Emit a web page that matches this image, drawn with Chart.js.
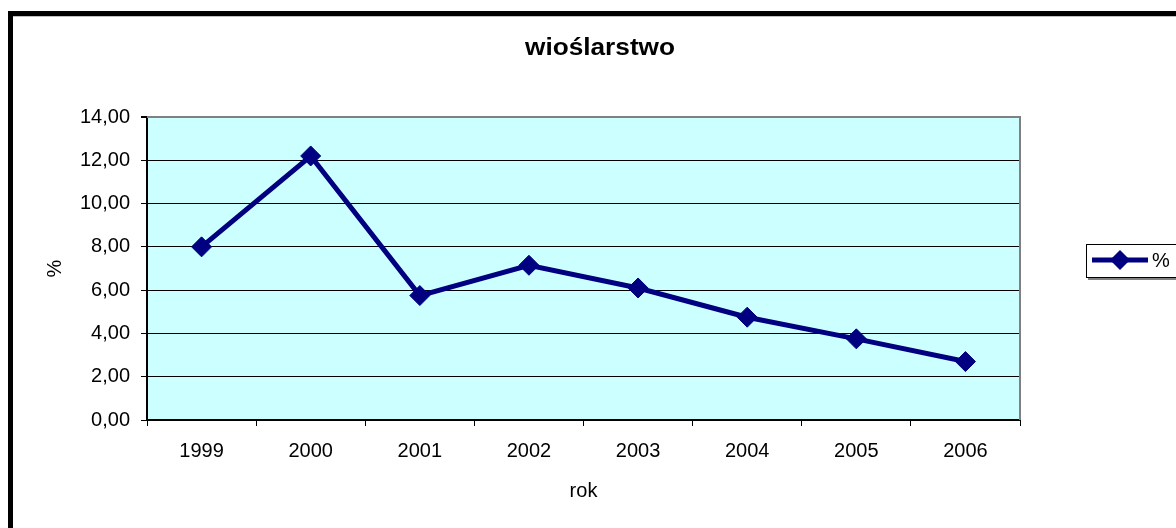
<!DOCTYPE html>
<html>
<head>
<meta charset="utf-8">
<script src="https://cdn.jsdelivr.net/npm/chart.js@4/dist/chart.umd.min.js"></script>
<style>
    html, body { margin: 0; padding: 0; background: #ffffff; overflow: hidden; }
    #wrap { position: relative; width: 1176px; height: 528px; }
</style>
</head>
<body>
<div id="wrap"><canvas id="chart" width="1176" height="528"></canvas></div>
<script>
"use strict";

// dane wykresu
const chartTitle = 'wioślarstwo';
const years = ['1999', '2000', '2001', '2002', '2003', '2004', '2005', '2006'];
const percent = [8.0, 12.2, 5.75, 7.15, 6.1, 4.75, 3.75, 2.7];
const seriesName = '%';
const xTitle = 'rok';
const yTitle = '%';
const yTicks = [0, 2, 4, 6, 8, 10, 12, 14];

const FONT = '"Liberation Sans", Arial, sans-serif';
const NAVY = '#000080';

// ramka, tło obszaru wykresu, tytuł i legenda w stylu Excela
const excelFrame = {
    id: 'excelFrame',
    beforeDraw(chart) {
        const ctx = chart.ctx;
        const a = chart.chartArea;
        ctx.save();
        ctx.fillStyle = '#ffffff';
        ctx.fillRect(0, 0, chart.width, chart.height);
        ctx.fillStyle = '#CCFFFF';
        ctx.fillRect(a.left, a.top, a.right - a.left, a.bottom - a.top);
        ctx.restore();
    },
    beforeDatasetsDraw(chart) {
        const ctx = chart.ctx;
        const a = chart.chartArea;
        // szara ramka obszaru kreślenia (góra i prawa strona)
        ctx.save();
        ctx.strokeStyle = '#808080';
        ctx.lineWidth = 2;
        ctx.beginPath();
        ctx.moveTo(a.left, a.top);
        ctx.lineTo(a.right, a.top);
        ctx.lineTo(a.right, a.bottom);
        ctx.stroke();
        ctx.restore();
    },
    afterDraw(chart) {
        const ctx = chart.ctx;
        ctx.save();

        // zewnętrzna ramka wykresu
        ctx.fillStyle = '#000000';
        ctx.fillRect(8, 11, 5, chart.height);
        ctx.fillRect(8, 11, chart.width, 5);
        ctx.fillStyle = '#c0c0c0';
        ctx.fillRect(13, 16, chart.width, 1);

        // tytuł
        ctx.font = 'bold 23px ' + FONT;
        ctx.fillStyle = '#000000';
        ctx.textAlign = 'center';
        ctx.textBaseline = 'alphabetic';
        const w = ctx.measureText(chartTitle).width;
        ctx.translate(600, 55);
        ctx.scale(150 / w, 1);
        ctx.fillText(chartTitle, 0, 0);
        ctx.setTransform(1, 0, 0, 1, 0, 0);

        // legenda
        const ds = chart.data.datasets[0];
        ctx.fillStyle = '#808080';
        ctx.fillRect(1088, 278, chart.width, 2);
        ctx.fillStyle = '#ffffff';
        ctx.fillRect(1086, 244, chart.width, 34);
        ctx.strokeStyle = '#000000';
        ctx.lineWidth = 1;
        ctx.strokeRect(1086.5, 244.5, 200, 33);

        const ly = 260;
        ctx.strokeStyle = ds.borderColor;
        ctx.lineWidth = ds.borderWidth;
        ctx.beginPath();
        ctx.moveTo(1092, ly);
        ctx.lineTo(1148, ly);
        ctx.stroke();
        ctx.fillStyle = ds.pointBackgroundColor;
        const r = ds.pointRadius;
        ctx.beginPath();
        ctx.moveTo(1120, ly - r);
        ctx.lineTo(1120 + r, ly);
        ctx.lineTo(1120, ly + r);
        ctx.lineTo(1120 - r, ly);
        ctx.closePath();
        ctx.fill();

        ctx.font = '20px ' + FONT;
        ctx.fillStyle = '#000000';
        ctx.textAlign = 'left';
        ctx.textBaseline = 'middle';
        ctx.fillText(ds.label, 1152, ly + 1);

        ctx.restore();
    }
};

const yMin = yTicks[0];
const yMax = yTicks[yTicks.length - 1];

new Chart(document.getElementById('chart').getContext('2d'), {
    type: 'line',
    data: {
        labels: years,
        datasets: [{
            label: seriesName,
            data: percent,
            borderColor: NAVY,
            backgroundColor: NAVY,
            borderWidth: 5,
            tension: 0,
            fill: false,
            pointStyle: 'rectRot',
            pointRadius: 10,
            pointHoverRadius: 10,
            pointBackgroundColor: NAVY,
            pointBorderColor: NAVY,
            pointBorderWidth: 1,
            clip: false
        }]
    },
    options: {
        responsive: false,
        devicePixelRatio: 1,
        animation: false,
        layout: {
            padding: { top: 117, right: 156, bottom: 0, left: 0 }
        },
        plugins: {
            legend: { display: false },
            title: { display: false },
            tooltip: { enabled: false }
        },
        scales: {
            x: {
                type: 'category',
                offset: true,
                afterFit(scale) { scale.height = 108; },
                grid: {
                    offset: true,
                    drawOnChartArea: false,
                    tickLength: 6,
                    color: '#000000',
                    lineWidth: 1
                },
                border: { display: true, color: '#000000', width: 2 },
                ticks: {
                    color: '#000000',
                    font: { family: FONT, size: 20 },
                    padding: 13,
                    maxRotation: 0,
                    autoSkip: false
                },
                title: {
                    display: true,
                    text: xTitle,
                    color: '#000000',
                    font: { family: FONT, size: 20 },
                    padding: { top: 0, bottom: 25 }
                }
            },
            y: {
                min: yMin,
                max: yMax,
                afterFit(scale) { scale.width = 147; },
                afterBuildTicks(scale) {
                    scale.ticks = yTicks.map(v => ({ value: v }));
                },
                grid: {
                    color: ctx => ctx.tick && ctx.tick.value === yMax ? '#808080' : '#000000',
                    lineWidth: ctx => ctx.tick && ctx.tick.value === yMax ? 2 : 1,
                    tickColor: '#000000',
                    tickLength: 6
                },
                border: { display: true, color: '#000000', width: 2 },
                ticks: {
                    color: '#000000',
                    font: { family: FONT, size: 20 },
                    padding: 11,
                    callback: v => Number(v).toFixed(2).replace('.', ',')
                },
                title: {
                    display: true,
                    text: yTitle,
                    color: '#000000',
                    font: { family: FONT, size: 20 },
                    padding: { top: 43, bottom: 0 }
                }
            }
        }
    },
    plugins: [excelFrame]
});
</script>
</body>
</html>
